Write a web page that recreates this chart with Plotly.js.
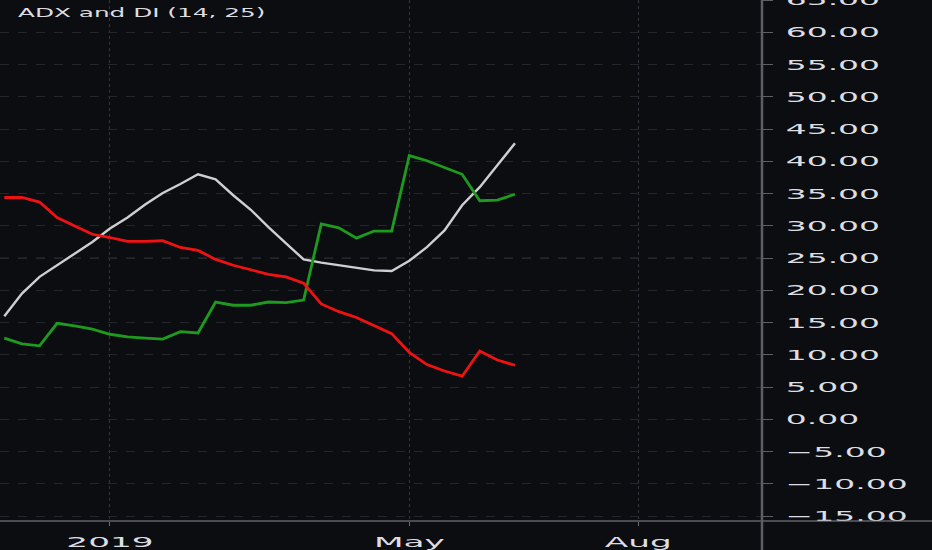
<!DOCTYPE html>
<html>
<head>
<meta charset="utf-8">
<script src="https://cdn.plot.ly/plotly-3.0.1.min.js"></script>
<style>
  html, body { margin: 0; padding: 0; background: #0b0d11; }
  #chart { width: 932px; height: 550px; }
</style>
</head>
<body>
<div id="chart"></div>
<script>
// weekly bars (Monday of each week)
const weeks = [
  '2018-11-19', '2018-11-26', '2018-12-03', '2018-12-10', '2018-12-17',
  '2018-12-24', '2018-12-31', '2019-01-07', '2019-01-14', '2019-01-21',
  '2019-01-28', '2019-02-04', '2019-02-11', '2019-02-18', '2019-02-25',
  '2019-03-04', '2019-03-11', '2019-03-18', '2019-03-25', '2019-04-01',
  '2019-04-08', '2019-04-15', '2019-04-22', '2019-04-29', '2019-05-06',
  '2019-05-13', '2019-05-20', '2019-05-27', '2019-06-03', '2019-06-10',
];

const adx = [
  16.0, 19.5, 22.1, 23.9, 25.6, 27.5, 29.6, 31.3, 33.3, 35.1,
  36.5, 38.0, 37.2, 34.75, 32.5, 29.8, 27.3, 24.8, 24.3, 23.9,
  23.4, 23.1, 23.0, 24.6, 26.7, 29.3, 33.2, 36.0, 39.4, 42.8,
];

const diPlus = [
  12.6, 11.7, 11.4, 14.9, 14.5, 14.0, 13.2, 12.8, 12.6, 12.45,
  13.6, 13.4, 18.2, 17.7, 17.7, 18.2, 18.1, 18.5, 30.3, 29.7,
  28.1, 29.2, 29.2, 40.9, 40.1, 39.1, 38.0, 33.9, 34.0, 34.9,
];

const diMinus = [
  34.4, 34.4, 33.7, 31.3, 30.0, 28.7, 28.2, 27.6, 27.6, 27.7,
  26.65, 26.2, 24.8, 23.9, 23.2, 22.5, 22.1, 21.1, 17.9, 16.7,
  15.8, 14.6, 13.3, 10.4, 8.5, 7.5, 6.7, 10.6, 9.2, 8.4,
];

const KEY_LEVEL = 25;

const xTickVals  = ['2018-12-31', '2019-04-29', '2019-07-29'];
const xTickText  = ['2019', 'May', 'Aug'];
const TITLE_TEXT = 'ADX and DI (14, 25)';

const BG       = '#0b0d11';
const TEXT_COL = '#dcdee2';
const AXIS_COL = '#5b5e64';
const FONT     = 'DejaVu Sans, sans-serif';

// screenshot text is horizontally stretched
const STRETCH_Y = 2.35;
const STRETCH_X = 2.45;

const traces = [
  { x: weeks, y: adx, type: 'scatter', mode: 'lines',
    line: { color: '#cfcfcf', width: 2.4 }, name: 'ADX' },
  { x: weeks, y: diPlus, type: 'scatter', mode: 'lines',
    line: { color: '#1e9b1e', width: 2.8 }, name: '+DI' },
  { x: weeks, y: diMinus, type: 'scatter', mode: 'lines',
    line: { color: '#f01212', width: 2.8 }, name: '-DI' },
];

const layout = {
  width: 932, height: 550,
  paper_bgcolor: BG, plot_bgcolor: BG,
  margin: { l: 0, r: 170, t: 0, b: 29 },
  showlegend: false,
  hovermode: false,
  font: { family: FONT, color: TEXT_COL },
  title: {
    text: TITLE_TEXT,
    font: { family: FONT, size: 11.5, color: TEXT_COL },
    x: 18 / 932, xanchor: 'left', xref: 'container',
    y: 1 - 13 / 550, yanchor: 'middle', yref: 'container',
  },
  xaxis: {
    type: 'date',
    range: ['2018-11-17 07:00', '2019-09-16 05:00'],
    tickvals: xTickVals, ticktext: xTickText,
    tickfont: { family: FONT, size: 14, color: TEXT_COL },
    ticks: 'outside', ticklen: 4, tickcolor: '#6a6d72',
    ticklabelstandoff: 4,
    showgrid: true, gridcolor: '#33363c', griddash: 'dot', gridwidth: 1,
    showline: false, zeroline: false, fixedrange: true,
  },
  yaxis: {
    side: 'right',
    range: [-15.75, 65.02],
    dtick: 5, tick0: 0, tickformat: '.2f',
    tickfont: { family: FONT, size: 14, color: TEXT_COL },
    ticks: 'outside', ticklen: 10, tickcolor: AXIS_COL,
    ticklabelstandoff: 10,
    ticklabeloverflow: 'allow',
    showgrid: true, gridcolor: '#23262c', griddash: 'dash', gridwidth: 1,
    showline: false, zeroline: false, fixedrange: true,
  },
  shapes: [
    // ADX key level
    { type: 'line', xref: 'paper', x0: 0, x1: 1, yref: 'y', y0: KEY_LEVEL, y1: KEY_LEVEL,
      line: { color: '#1f4d40', width: 1, dash: 'dash' }, layer: 'below' },
    // bottom border, full width
    { type: 'line', xref: 'paper', x0: 0, x1: 932 / 762, yref: 'paper', y0: 0, y1: 0,
      line: { color: '#8a8d92', width: 1 } },
    // price-scale border, full height
    { type: 'line', xref: 'paper', x0: 1, x1: 1, yref: 'paper', y0: -29 / 521, y1: 1,
      line: { color: AXIS_COL, width: 2.5 } },
  ],
};

function stretchText(gd, selector, factor) {
  gd.querySelectorAll(selector).forEach(t => {
    const w = t.getComputedTextLength();
    if (!w) return;
    t.setAttribute('textLength', (w * factor).toFixed(1));
    t.setAttribute('lengthAdjust', 'spacingAndGlyphs');
  });
}

const gd = document.getElementById('chart');
Plotly.newPlot(gd, traces, layout, { displayModeBar: false, staticPlot: true })
  .then(() => {
    stretchText(gd, '.ytick text', STRETCH_Y);
    stretchText(gd, '.xtick text', STRETCH_X);
    stretchText(gd, '.gtitle', 2.15);
  });
</script>
</body>
</html>
